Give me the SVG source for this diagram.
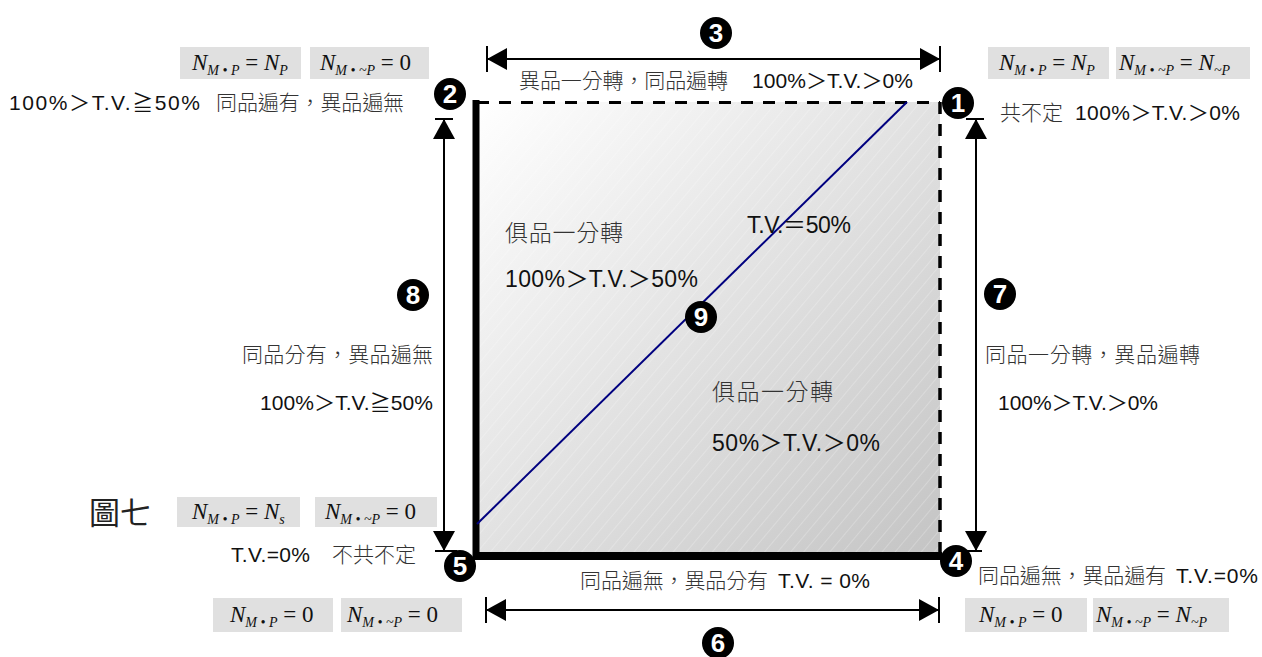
<svg xmlns="http://www.w3.org/2000/svg" width="1262" height="657" viewBox="0 0 1262 657">
<style>
.t{font-family:"Liberation Sans","Noto Sans CJK TC",sans-serif;fill:#111}
.c{font-family:"Liberation Sans","Noto Sans CJK TC",sans-serif;fill:#333;font-weight:300}
.s20{font-size:21px}.s22{font-size:23px}.s19{font-size:21px}
.box{fill:#e0e0e0}
.fm{font-family:"Liberation Serif","Times New Roman",serif;font-size:23px;fill:#111}
.i{font-style:italic}
.sb{font-style:italic;font-size:14px}
.num circle{fill:#000}
.num text{font-family:"Liberation Sans","DejaVu Sans",sans-serif;font-weight:bold;font-size:26px;fill:#fff;text-anchor:middle}
.dim{stroke:#000;stroke-width:2;fill:none}
.tick{stroke:#000;stroke-width:2}
</style>
<defs>
<linearGradient id="g" x1="0" y1="0" x2="1" y2="1">
<stop offset="0" stop-color="#ffffff"/>
<stop offset="1" stop-color="#c4c4c4"/>
</linearGradient>
<pattern id="h" width="10" height="10" patternUnits="userSpaceOnUse" patternTransform="rotate(40)">
<line x1="0" y1="0" x2="0" y2="10" stroke="#ffffff" stroke-opacity="0.45" stroke-width="1"/>
</pattern>
<marker id="ah" viewBox="0 0 20 22" refX="20" refY="11" markerWidth="20" markerHeight="22" markerUnits="userSpaceOnUse" orient="auto-start-reverse">
<path d="M0,0 L20,11 L0,22 z" fill="#000"/>
</marker>
</defs>
<rect width="1262" height="657" fill="#fff"/>

<g id="square">
<rect x="477" y="102" width="463" height="454" fill="url(#g)"/>
<rect x="477" y="102" width="463" height="454" fill="url(#h)"/>
<line x1="477" y1="102.5" x2="940" y2="102.5" stroke="#000" stroke-width="3" stroke-dasharray="12,10"/>
<line x1="940" y1="102" x2="940" y2="556" stroke="#000" stroke-width="3.5" stroke-dasharray="12,10"/>
<line x1="476" y1="100" x2="476" y2="560" stroke="#000" stroke-width="7"/>
<line x1="473" y1="556" x2="942" y2="556" stroke="#000" stroke-width="8"/>
<line x1="477" y1="524" x2="907" y2="102" stroke="#00007f" stroke-width="2"/>
</g>

<g id="connectors">
<line class="dim" x1="487" y1="59" x2="940" y2="59" marker-start="url(#ah)" marker-end="url(#ah)"/>
<line class="tick" x1="487" y1="46" x2="487" y2="72"/>
<line class="tick" x1="940" y1="46" x2="940" y2="72"/>
<line class="dim" x1="486" y1="610" x2="939" y2="610" marker-start="url(#ah)" marker-end="url(#ah)"/>
<line class="tick" x1="486" y1="597" x2="486" y2="623"/>
<line class="tick" x1="939" y1="597" x2="939" y2="623"/>
<line class="dim" x1="444" y1="119" x2="444" y2="551" marker-start="url(#ah)" marker-end="url(#ah)"/>
<line class="tick" x1="435" y1="119" x2="453" y2="119"/>
<line class="tick" x1="435" y1="551" x2="457" y2="551"/>
<line class="dim" x1="976" y1="119" x2="976" y2="551" marker-start="url(#ah)" marker-end="url(#ah)"/>
<line class="tick" x1="966" y1="119" x2="984" y2="119"/>
<line class="tick" x1="966" y1="551" x2="982" y2="551"/>
</g>

<g id="n1" class="num"><circle cx="958" cy="103" r="16"/><text x="958" y="112">1</text></g>
<g id="n2" class="num"><circle cx="450" cy="94" r="16"/><text x="450" y="103">2</text></g>
<g id="n3" class="num"><circle cx="716" cy="33" r="16"/><text x="716" y="42">3</text></g>
<g id="n4" class="num"><circle cx="956" cy="561" r="16"/><text x="956" y="570">4</text></g>
<g id="n5" class="num"><circle cx="460" cy="566" r="16"/><text x="460" y="575">5</text></g>
<g id="n6" class="num"><circle cx="718" cy="643" r="16"/><text x="718" y="652">6</text></g>
<g id="n7" class="num"><circle cx="1000" cy="294" r="16"/><text x="1000" y="303">7</text></g>
<g id="n8" class="num"><circle cx="413" cy="295" r="16"/><text x="413" y="304">8</text></g>
<g id="n9" class="num"><circle cx="701" cy="317" r="16"/><text x="701" y="326">9</text></g>

<g id="corner2">
<rect class="box" x="180" y="47" width="121" height="32"/>
<text class="fm" x="192" y="70"><tspan class="i">N</tspan><tspan class="sb" dy="5">M • P</tspan><tspan dy="-5"> = </tspan><tspan class="i">N</tspan><tspan class="sb" dy="5">P</tspan></text>
<rect class="box" x="310" y="47" width="119" height="32"/>
<text class="fm" x="320" y="70"><tspan class="i">N</tspan><tspan class="sb" dy="5">M • ~P</tspan><tspan dy="-5"> = 0</tspan></text>
<text class="t s19" x="9" y="110" textLength="191">100%＞T.V.≧50%</text>
<text class="c s20" x="216" y="110" textLength="188">同品遍有，異品遍無</text>
</g>

<g id="edge3">
<text class="c s20" x="519" y="88" textLength="209">異品一分轉，同品遍轉</text>
<text class="t s19" x="752" y="88" textLength="161">100%＞T.V.＞0%</text>
</g>

<g id="corner1">
<rect class="box" x="988" y="47" width="121" height="32"/>
<text class="fm" x="999" y="70"><tspan class="i">N</tspan><tspan class="sb" dy="5">M • P</tspan><tspan dy="-5"> = </tspan><tspan class="i">N</tspan><tspan class="sb" dy="5">P</tspan></text>
<rect class="box" x="1116" y="47" width="134" height="32"/>
<text class="fm" x="1119" y="70"><tspan class="i">N</tspan><tspan class="sb" dy="5">M • ~P</tspan><tspan dy="-5"> = </tspan><tspan class="i">N</tspan><tspan class="sb" dy="5">~P</tspan></text>
<text class="c s20" x="1000" y="120" textLength="63">共不定</text>
<text class="t s19" x="1075" y="120" textLength="165">100%＞T.V.＞0%</text>
</g>

<g id="region-upper">
<text class="c s22" x="505" y="241" textLength="118">俱品一分轉</text>
<text class="t s22" x="505" y="287" textLength="193">100%＞T.V.＞50%</text>
</g>
<g id="diag9">
<text class="t s22" x="747" y="233" textLength="104">T.V.＝50%</text>
</g>
<g id="region-lower">
<text class="c s22" x="712" y="400" textLength="121">俱品一分轉</text>
<text class="t s22" x="712" y="451" textLength="168">50%＞T.V.＞0%</text>
</g>

<g id="edge8">
<text class="c s20" x="242" y="362" textLength="191">同品分有，異品遍無</text>
<text class="t s19" x="260" y="410" textLength="173">100%＞T.V.≧50%</text>
</g>

<g id="edge7">
<text class="c s20" x="985" y="362" textLength="215">同品一分轉，異品遍轉</text>
<text class="t s19" x="998" y="410" textLength="160">100%＞T.V.＞0%</text>
</g>

<g id="fig">
<text x="89" y="524" font-family="Liberation Serif,'Noto Sans CJK TC',serif" font-size="31" fill="#222">圖七</text>
<rect class="box" x="177" y="497" width="123" height="30"/>
<text class="fm" x="192" y="519"><tspan class="i">N</tspan><tspan class="sb" dy="5">M • P</tspan><tspan dy="-5"> = </tspan><tspan class="i">N</tspan><tspan class="sb" dy="5">s</tspan></text>
<rect class="box" x="315" y="497" width="122" height="30"/>
<text class="fm" x="325" y="519"><tspan class="i">N</tspan><tspan class="sb" dy="5">M • ~P</tspan><tspan dy="-5"> = 0</tspan></text>
</g>

<g id="corner5">
<text class="t s19" x="231" y="562" textLength="79">T.V.=0%</text>
<text class="c s20" x="332" y="562" textLength="84">不共不定</text>
<rect class="box" x="213" y="598" width="120" height="34"/>
<text class="fm" x="230" y="622"><tspan class="i">N</tspan><tspan class="sb" dy="5">M • P</tspan><tspan dy="-5"> = 0</tspan></text>
<rect class="box" x="341" y="598" width="121" height="34"/>
<text class="fm" x="347" y="622"><tspan class="i">N</tspan><tspan class="sb" dy="5">M • ~P</tspan><tspan dy="-5"> = 0</tspan></text>
</g>

<g id="edge6">
<text class="c s20" x="580" y="588" textLength="188">同品遍無，異品分有</text>
<text class="t s19" x="778" y="588" textLength="92">T.V. = 0%</text>
</g>

<g id="corner4">
<text class="c s20" x="978" y="583" textLength="188">同品遍無，異品遍有</text>
<text class="t s19" x="1176" y="583" textLength="82">T.V.=0%</text>
<rect class="box" x="965" y="598" width="122" height="34"/>
<text class="fm" x="979" y="622"><tspan class="i">N</tspan><tspan class="sb" dy="5">M • P</tspan><tspan dy="-5"> = 0</tspan></text>
<rect class="box" x="1093" y="598" width="136" height="34"/>
<text class="fm" x="1096" y="622"><tspan class="i">N</tspan><tspan class="sb" dy="5">M • ~P</tspan><tspan dy="-5"> = </tspan><tspan class="i">N</tspan><tspan class="sb" dy="5">~P</tspan></text>
</g>
</svg>
